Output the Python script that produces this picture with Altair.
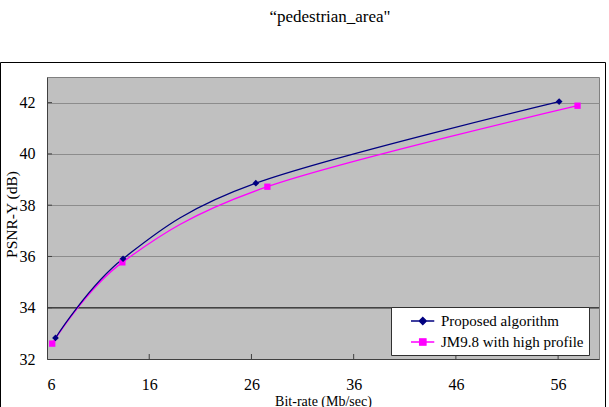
import altair as alt
import pandas as pd

title_text = "\u201cpedestrian_area\""
series_names = ["Proposed algorithm", "JM9.8 with high profile"]
proposed_rate = [6.83, 13.44, 26.43, 56.1]
proposed_psnr = [32.82, 35.91, 38.86, 42.04]
jm_rate = [6.51, 13.37, 27.56, 57.9]
jm_psnr = [32.60, 35.77, 38.72, 41.88]
x_ticks = [6, 16, 26, 36, 46, 56]
y_ticks = [32, 34, 36, 38, 40, 42]

df = pd.DataFrame({
    "series": [series_names[0]] * len(proposed_rate) + [series_names[1]] * len(jm_rate),
    "rate": proposed_rate + jm_rate,
    "psnr": proposed_psnr + jm_psnr,
})

NAVY = "#000080"
MAGENTA = "#FF00FF"
FONT = "Liberation Serif"
W, H = 552, 282

xs = alt.Scale(domain=[6, 60], nice=False, zero=False)
ys = alt.Scale(domain=[32, 43], nice=False, zero=False)
x = alt.X("rate:Q", scale=xs, axis=alt.Axis(
    values=x_ticks, title="Bit-rate (Mb/sec)", grid=False, ticks=False, tickSize=0,
    labelPadding=17, titleY=42, titleBaseline="middle",
    labelFont=FONT, labelFontSize=16, labelColor="black",
    titleFont=FONT, titleFontSize=14, titleFontWeight="normal", titleColor="black"))
y = alt.Y("psnr:Q", scale=ys, axis=alt.Axis(
    values=y_ticks, title="PSNR-Y (dB)", grid=True, gridColor="#8c8c8c", gridWidth=1,
    ticks=False, tickSize=0, labelPadding=12, titleX=-36, titleY=137,
    titleBaseline="middle", titleAngle=270,
    labelFont=FONT, labelFontSize=16, labelColor="black",
    titleFont=FONT, titleFontSize=15.5, titleFontWeight="normal", titleColor="black"))

# legend symbols: line segment + marker (unit = 8 px)
path_diamond = "M0.75,0H3.66M2.225,-0.45L2.675,0L2.225,0.45L1.775,0Z"
path_square = "M0.75,0H3.66M1.825,-0.4H2.625V0.4H1.825Z"

leg = alt.Legend(title=None, orient="none", legendX=344, legendY=230,
                 fillColor="white", strokeColor="#303030", padding=5,
                 labelFont=FONT, labelFontSize=15, labelColor="black", labelOffset=27,
                 symbolSize=256, symbolStrokeWidth=1.3, symbolOpacity=1, rowPadding=4)

base = alt.Chart(df)

rule34 = alt.Chart(pd.DataFrame({"psnr": [34]})).mark_rule(color="#202020", strokeWidth=1).encode(y=y)

xt = alt.Chart(pd.DataFrame({"rate": x_ticks[1:]})).mark_rule(color="#404040").encode(
    x=x, y=alt.value(H - 5), y2=alt.value(H))
yt = alt.Chart(pd.DataFrame({"psnr": y_ticks[1:]})).mark_rule(color="#404040").encode(
    y=y, x=alt.value(0), x2=alt.value(5))

line_p = base.transform_filter(alt.datum.series == series_names[0]).mark_line(
    color=NAVY, strokeWidth=1.3, interpolate="cardinal").encode(x=x, y=y)
line_j = base.transform_filter(alt.datum.series == series_names[1]).mark_line(
    color=MAGENTA, strokeWidth=1.3, interpolate="cardinal").encode(x=x, y=y)
pt_p = base.transform_filter(alt.datum.series == series_names[0]).mark_point(
    shape="diamond", filled=True, color=NAVY, size=45, opacity=1).encode(x=x, y=y)
pt_j = base.transform_filter(alt.datum.series == series_names[1]).mark_point(
    shape="square", filled=True, color=MAGENTA, size=40, opacity=1).encode(x=x, y=y)

cscale = alt.Scale(domain=series_names, range=[NAVY, MAGENTA])
carrier = base.mark_point(opacity=0, filled=False).encode(
    x=x, y=y,
    fill=alt.Fill("series:N", scale=cscale, legend=leg, sort=series_names),
    stroke=alt.Stroke("series:N", scale=cscale, legend=leg, sort=series_names),
    shape=alt.Shape("series:N", scale=alt.Scale(domain=series_names, range=[path_diamond, path_square]),
                    legend=leg, sort=series_names),
)

frame = alt.Chart(pd.DataFrame({"a": [0]})).mark_rect(filled=False, stroke="black", strokeWidth=1).encode(
    x=alt.value(-46.5), x2=alt.value(558.5), y=alt.value(-14.5), y2=alt.value(340))

chart = alt.layer(rule34, xt, yt, line_j, line_p, pt_j, pt_p, carrier, frame).properties(
    width=W, height=H,
    title=alt.Title(title_text, font=FONT, fontSize=17, fontWeight="normal", color="black",
                    anchor="middle", dx=7, offset=36),
    autosize=alt.AutoSizeParams(type="none"),
    padding={"left": 47, "top": 77, "right": 10, "bottom": 48},
    background="white",
).configure_view(
    stroke="#808080", fill="#C0C0C0", strokeWidth=1
).configure_axis(
    domainColor="#404040", labelFont=FONT, labelFontSize=16, labelColor="black",
    titleFont=FONT, titleFontSize=14, titleFontWeight="normal", titleColor="black",
)

chart.save("out.html", embed_options={"renderer": "svg", "actions": False})
